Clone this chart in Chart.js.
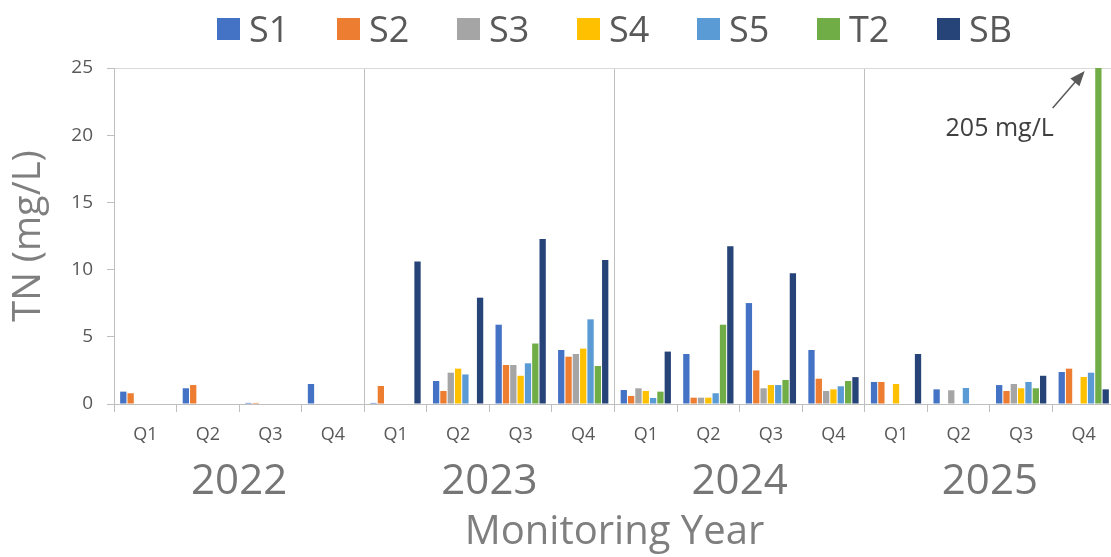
<!DOCTYPE html>
<html>
<head>
<meta charset="utf-8">
<script src="https://cdn.jsdelivr.net/npm/chart.js@4/dist/chart.umd.min.js"></script>
<style>
    body { margin: 0; background: #fff; overflow: hidden; }
    #wrap { position: relative; width: 1120px; height: 557px; }
    #legend { position: absolute; top: 7px; left: 217px; display: flex; font-family: "Open Sans", sans-serif; }
    .item { display: flex; align-items: center; width: 120px; height: 44px; }
    .box { width: 23px; height: 22px; }
    .lbl { margin-left: 9px; font-size: 36px; color: #595959; line-height: 44px; }
</style>
</head>
<body>
<div id="wrap">
    <canvas id="tnChart"></canvas>
    <div id="legend"></div>
</div>
<script>
// Data
const quarters = ['Q1', 'Q2', 'Q3', 'Q4', 'Q1', 'Q2', 'Q3', 'Q4', 'Q1', 'Q2', 'Q3', 'Q4', 'Q1', 'Q2', 'Q3', 'Q4'];
const years = ['2022', '2023', '2024', '2025'];
const yTicks = [0, 5, 10, 15, 20, 25];

const s1 = [0.92, 1.17, 0.08, 1.49, 0.08, 1.71, 5.9, 4.02, 1.04, 3.72, 7.51, 4.02, 1.64, 1.09, 1.41, 2.38];
const s2 = [0.8, 1.41, 0.08, 0.04, 1.34, 0.97, 2.9, 3.52, 0.6, 0.47, 2.5, 1.88, 1.64, null, 0.97, 2.63];
const s3 = [null, null, null, null, null, 2.33, 2.9, 3.72, 1.17, 0.47, 1.17, 0.97, null, 1.02, 1.49, null];
const s4 = [null, null, null, null, null, 2.63, 2.1, 4.12, 0.97, 0.47, 1.41, 1.09, 1.49, null, 1.17, 2.01];
const s5 = [null, null, null, null, null, 2.2, 3.03, 6.3, 0.45, 0.8, 1.41, 1.32, null, 1.19, 1.64, 2.33];
const t2 = [null, null, null, null, null, null, 4.5, 2.83, 0.92, 5.9, 1.79, 1.71, null, null, 1.17, 205];
const sb = [null, null, null, null, 10.6, 7.91, 12.28, 10.71, 3.9, 11.73, 9.72, 2.0, 3.72, null, 2.1, 1.09];

const seriesNames = ['S1', 'S2', 'S3', 'S4', 'S5', 'T2', 'SB'];
const seriesValues = [s1, s2, s3, s4, s5, t2, sb];
const seriesColors = ['#4472C4', '#ED7D31', '#A5A5A5', '#FFC000', '#5B9BD5', '#70AD47', '#264478'];

const outlierLabel = '205 mg/L';

const axisGray = '#bfbfbf';
const textGray = '#595959';
const FONT = '"Open Sans", sans-serif';

// Callout for the clipped T2 bar
const calloutPlugin = {
    id: 'callout',
    afterDatasetsDraw(chart) {
        const { ctx, scales } = chart;
        const x = scales.x.getPixelForValue(quarters.length - 1);
        const top = scales.y.getPixelForValue(25);
        const tipX = x + 1, tipY = top + 3;
        const tailX = x - 31, tailY = top + 40;
        ctx.save();
        ctx.strokeStyle = '#595959';
        ctx.fillStyle = '#595959';
        ctx.lineWidth = 1.5;
        const ang = Math.atan2(tipY - tailY, tipX - tailX);
        ctx.beginPath();
        ctx.moveTo(tailX, tailY);
        ctx.lineTo(tipX - 10 * Math.cos(ang), tipY - 10 * Math.sin(ang));
        ctx.stroke();
        ctx.beginPath();
        ctx.moveTo(tipX, tipY);
        ctx.lineTo(tipX - 15 * Math.cos(ang) + 6 * Math.sin(ang), tipY - 15 * Math.sin(ang) - 6 * Math.cos(ang));
        ctx.lineTo(tipX - 15 * Math.cos(ang) - 6 * Math.sin(ang), tipY - 15 * Math.sin(ang) + 6 * Math.cos(ang));
        ctx.closePath();
        ctx.fill();
        ctx.font = '25px ' + FONT;
        ctx.fillStyle = '#404040';
        ctx.textAlign = 'center';
        ctx.textBaseline = 'middle';
        ctx.fillText(outlierLabel, x - 84, top + 61);
        ctx.restore();
    }
};

const chart = new Chart(document.getElementById('tnChart'), {
    type: 'bar',
    data: {
        labels: quarters,
        datasets: seriesNames.map((name, i) => ({
            label: name,
            data: seriesValues[i],
            backgroundColor: seriesColors[i],
            barPercentage: 0.86,
            categoryPercentage: 0.82
        }))
    },
    options: {
        responsive: true,
        maintainAspectRatio: false,
        animation: false,
        layout: { padding: { top: 68, right: 5, left: 0, bottom: 0 } },
        plugins: {
            legend: { display: false },
            tooltip: { enabled: false }
        },
        scales: {
            x: {
                type: 'category',
                offset: true,
                grid: { offset: true, drawOnChartArea: false, tickLength: 8, color: axisGray },
                border: { color: axisGray },
                ticks: { color: textGray, font: { family: FONT, size: 18 }, padding: 12, maxRotation: 0 },
                afterFit(scale) { scale.height = 50; }
            },
            x2: {
                type: 'category',
                labels: years,
                position: 'bottom',
                offset: true,
                grid: { offset: true, drawOnChartArea: true, drawTicks: false, color: axisGray },
                border: { display: false },
                ticks: { color: '#767676', font: { family: FONT, size: 42 }, padding: 3 },
                title: { display: true, text: 'Monitoring Year', color: '#7f7f7f', font: { family: FONT, size: 40 }, padding: 0 },
                afterFit(scale) { scale.height = 103; }
            },
            y: {
                min: 0,
                max: 25,
                afterBuildTicks(scale) { scale.ticks = yTicks.map(v => ({ value: v })); },
                grid: {
                    color: ctx => (ctx.tick && ctx.tick.value === 25 ? '#d9d9d9' : 'rgba(0,0,0,0)'),
                    tickColor: axisGray,
                    tickLength: 7
                },
                border: { color: axisGray },
                ticks: { color: textGray, font: { family: FONT, size: 19 }, padding: 14 },
                title: { display: true, text: 'TN (mg/L)', color: '#7f7f7f', font: { family: FONT, size: 38 }, padding: { top: 6 } },
                afterFit(scale) { scale.width = 114; }
            }
        }
    },
    plugins: [calloutPlugin]
});

// Legend built from the chart datasets
const legendEl = document.getElementById('legend');
chart.data.datasets.forEach(ds => {
    legendEl.insertAdjacentHTML('beforeend',
        `<div class="item"><span class="box" style="background:${ds.backgroundColor}"></span><span class="lbl">${ds.label}</span></div>`);
});
</script>
</body>
</html>
